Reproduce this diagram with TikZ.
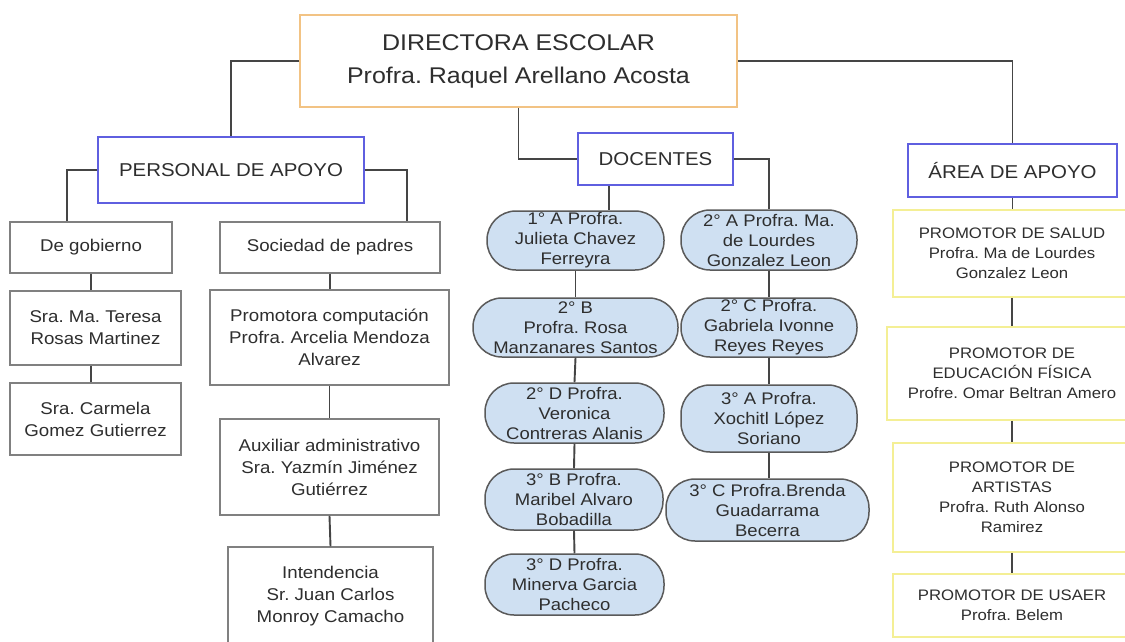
\documentclass[tikz,border=0pt]{standalone}
\usepackage{fontspec}
\setmainfont{Liberation Sans}[FakeStretch=1.1]
\frenchspacing
\definecolor{txt}{HTML}{2E2E2E}
\definecolor{lin}{HTML}{454545}
\definecolor{orangeb}{HTML}{F2C384}
\definecolor{blueb}{HTML}{5F5FE0}
\definecolor{greyb}{HTML}{808080}
\definecolor{pillfill}{HTML}{CFE0F2}
\definecolor{pillb}{HTML}{5A5A5A}
\definecolor{yellowb}{HTML}{F4EF95}
\tikzset{
  base/.style={align=center, inner sep=0pt, text=txt, line width=1.5pt},
  dirbox/.style={base, draw=orangeb, font={\fontsize{22.7}{33}\selectfont}},
  secbox/.style={base, draw=blueb, font={\fontsize{18.6}{22}\selectfont}},
  greybox/.style={base, draw=greyb, font={\fontsize{17}{22}\selectfont}},
  pill/.style={base, draw=pillb, fill=pillfill, rounded corners=29pt, font={\fontsize{16.8}{20}\selectfont}},
  ybox/.style={base, draw=yellowb, font={\fontsize{15.2}{20}\selectfont}},
  conn/.style={draw=lin, line width=1.9pt},
}
\begin{document}
\begin{tikzpicture}[x=1pt,y=-1pt]
\useasboundingbox (0,0) rectangle (1125,641);
\clip (0,0) rectangle (1125,641);
\fill[white] (0,0) rectangle (1125,641);

% top levels
\node[dirbox, minimum width=437pt, minimum height=92pt] (dir) at (518.5,61) {DIRECTORA ESCOLAR\\Profra. Raquel Arellano Acosta};
\node[secbox, minimum width=266pt, minimum height=66pt] (pa) at (231,170) {PERSONAL DE APOYO};
\node[secbox, minimum width=155pt, minimum height=52pt] (doc) at (655.5,159) {DOCENTES};
\node[secbox, minimum width=209pt, minimum height=53pt] (area) at (1012.5,170.5) {ÁREA DE APOYO};

% personal de apoyo
\node[greybox, minimum width=162pt, minimum height=51pt] (gob) at (91,247.5) {De gobierno};
\node[greybox, minimum width=220pt, minimum height=51pt] (soc) at (330,247.5) {Sociedad de padres};
\node[greybox, minimum width=171pt, minimum height=74pt] (ter) at (95.5,328) {Sra. Ma. Teresa\\Rosas Martinez};
\node[greybox, minimum width=171pt, minimum height=72pt] (car) at (95.5,419) {Sra. Carmela\\Gomez Gutierrez};
\node[greybox, minimum width=239pt, minimum height=95pt] (prom) at (329.5,337.5) {Promotora computación\\Profra. Arcelia Mendoza\\Alvarez};
\node[greybox, minimum width=219pt, minimum height=96pt] (aux) at (329.5,467) {Auxiliar administrativo\\Sra. Yazmín Jiménez\\Gutiérrez};
\node[greybox, minimum width=205pt, minimum height=98pt] (int) at (330.5,596) {Intendencia\\Sr. Juan Carlos\\Monroy Camacho};

% docentes
\node[pill, minimum width=177pt, minimum height=59pt] (p1a) at (575.5,240.5) {1° A Profra.\\Julieta Chavez\\Ferreyra};
\node[pill, minimum width=205pt, minimum height=59pt] (p2b) at (575.5,327.5) {2° B\\Profra. Rosa\\Manzanares Santos};
\node[pill, minimum width=179pt, minimum height=60pt] (p2d) at (574.5,413) {2° D Profra.\\Veronica\\Contreras Alanis};
\node[pill, minimum width=178pt, minimum height=61pt] (p3b) at (574,499.5) {3° B Profra.\\Maribel Alvaro\\Bobadilla};
\node[pill, minimum width=179pt, minimum height=61pt] (p3d) at (574.5,584.5) {3° D Profra.\\Minerva Garcia\\Pacheco};
\node[pill, minimum width=176pt, minimum height=60pt] (p2a) at (769,240) {2° A Profra. Ma.\\de Lourdes\\Gonzalez Leon};
\node[pill, minimum width=176pt, minimum height=59pt] (p2c) at (769,327.5) {2° C Profra.\\Gabriela Ivonne\\Reyes Reyes};
\node[pill, minimum width=176pt, minimum height=67pt] (p3a) at (769,418.5) {3° A Profra.\\Xochitl López\\Soriano};
\node[pill, minimum width=203pt, minimum height=62pt] (p3c) at (767.5,510) {3° C Profra.Brenda\\Guadarrama\\Becerra};

% area de apoyo
\node[ybox, minimum width=238pt, minimum height=87pt] (sal) at (1012,253.5) {PROMOTOR DE SALUD\\Profra. Ma de Lourdes\\Gonzalez Leon};
\node[ybox, minimum width=250pt, minimum height=93pt] (edu) at (1012,373.5) {PROMOTOR DE\\EDUCACIÓN FÍSICA\\Profre. Omar Beltran Amero};
\node[ybox, minimum width=238pt, minimum height=109pt] (art) at (1012,497.5) {PROMOTOR DE\\ARTISTAS\\Profra. Ruth Alonso\\Ramirez};
\node[ybox, minimum width=238pt, minimum height=63pt] (usa) at (1012,605.5) {PROMOTOR DE USAER\\Profra. Belem};

% connectors
\draw[conn] (dir.west) -| (pa.north);
\draw[conn] (dir.east) -| (area.north);
\draw[conn] (dir.south) |- (doc.west);

\draw[conn] (pa.west) -| ([xshift=-24pt]gob.north);
\draw[conn] (pa.east) -| ([xshift=77pt]soc.north);
\draw[conn] (gob.south) -- (gob.south |- ter.north);
\draw[conn] (ter.south -| gob.south) -- (car.north -| gob.south);
\draw[conn] (soc.south) -- (soc.south |- prom.north);
\draw[conn] (prom.south) -- (prom.south |- aux.north);
\draw[conn] (aux.south) -- (int.north);

\draw[conn] ([xshift=-46.5pt]doc.south) -- ([xshift=-46.5pt]doc.south |- p1a.north);
\draw[conn] (doc.east) -| (p2a.north);
\draw[conn] (p1a.south) -- (p2b.north);
\draw[conn] (p2b.south) -- (p2d.north);
\draw[conn] (p2d.south) -- (p3b.north);
\draw[conn] (p3b.south) -- (p3d.north);
\draw[conn] (p2a.south) -- (p2c.north);
\draw[conn] (p2c.south) -- (p3a.north);
\draw[conn] (p3a.south) -- (p3a.south |- p3c.north);

\draw[conn] (area.south) -- (area.south |- sal.north);
\draw[conn] (sal.south) -- (edu.north);
\draw[conn] (edu.south) -- (art.north);
\draw[conn] (art.south) -- (usa.north);
\end{tikzpicture}
\end{document}
